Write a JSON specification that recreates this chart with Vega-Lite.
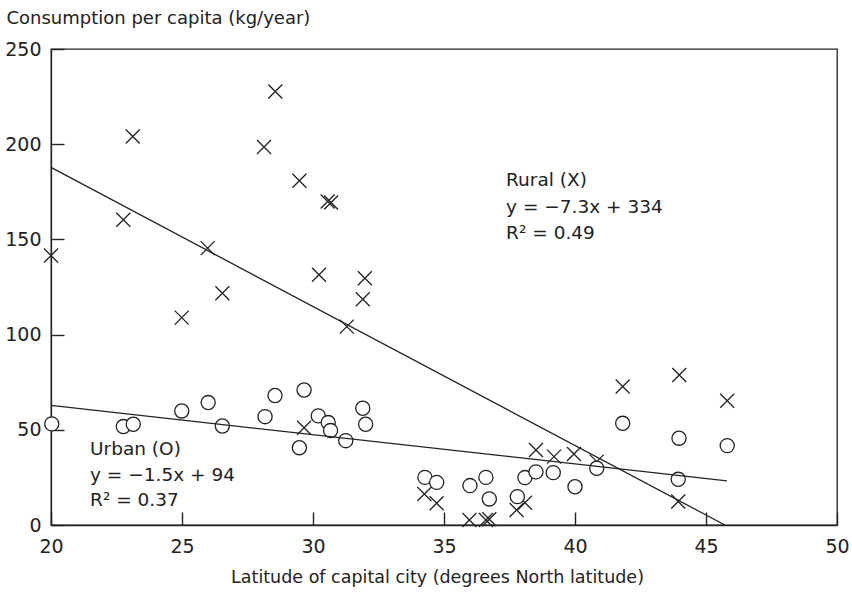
{
  "$schema": "https://vega.github.io/schema/vega-lite/v6.json",
  "width": 786,
  "height": 476,
  "autosize": {"type": "none"},
  "padding": {"left": 51, "top": 49, "right": 15, "bottom": 68},
  "background": "white",
  "config": {
    "font": "DejaVu Sans",
    "view": {"stroke": "#222", "strokeWidth": 1.3},
    "axis": {"grid": false, "domainColor": "#222", "domainWidth": 1.3, "tickColor": "#222", "tickWidth": 1.4, "labelColor": "#222", "titleColor": "#222", "labelFont": "DejaVu Sans", "titleFont": "DejaVu Sans", "titleFontWeight": "normal"}
  },
  "datasets": {
    "pts": [
      {"lat": 20.0, "cons": 141.5, "area": "Rural"},
      {"lat": 22.76, "cons": 160.3, "area": "Rural"},
      {"lat": 23.12, "cons": 204, "area": "Rural"},
      {"lat": 25.98, "cons": 145.4, "area": "Rural"},
      {"lat": 28.13, "cons": 198.5, "area": "Rural"},
      {"lat": 28.56, "cons": 227.7, "area": "Rural"},
      {"lat": 29.48, "cons": 180.8, "area": "Rural"},
      {"lat": 30.56, "cons": 169.9, "area": "Rural"},
      {"lat": 30.69, "cons": 169.4, "area": "Rural"},
      {"lat": 30.23, "cons": 131.4, "area": "Rural"},
      {"lat": 31.98, "cons": 129.6, "area": "Rural"},
      {"lat": 31.9, "cons": 118.6, "area": "Rural"},
      {"lat": 26.54, "cons": 121.7, "area": "Rural"},
      {"lat": 24.99, "cons": 108.9, "area": "Rural"},
      {"lat": 31.29, "cons": 104.2, "area": "Rural"},
      {"lat": 29.66, "cons": 51.1, "area": "Rural"},
      {"lat": 41.82, "cons": 72.7, "area": "Rural"},
      {"lat": 43.98, "cons": 78.8, "area": "Rural"},
      {"lat": 45.81, "cons": 65.3, "area": "Rural"},
      {"lat": 38.51, "cons": 39.4, "area": "Rural"},
      {"lat": 39.2, "cons": 35.9, "area": "Rural"},
      {"lat": 39.96, "cons": 37.3, "area": "Rural"},
      {"lat": 40.83, "cons": 33.3, "area": "Rural"},
      {"lat": 34.25, "cons": 16.3, "area": "Rural"},
      {"lat": 34.72, "cons": 11.4, "area": "Rural"},
      {"lat": 35.97, "cons": 2.6, "area": "Rural"},
      {"lat": 36.6, "cons": 2.6, "area": "Rural"},
      {"lat": 36.73, "cons": 3.0, "area": "Rural"},
      {"lat": 37.77, "cons": 7.9, "area": "Rural"},
      {"lat": 38.09, "cons": 11.7, "area": "Rural"},
      {"lat": 43.94, "cons": 12.3, "area": "Rural"},
      {"lat": 20.03, "cons": 53.1, "area": "Urban"},
      {"lat": 22.76, "cons": 51.7, "area": "Urban"},
      {"lat": 23.14, "cons": 52.9, "area": "Urban"},
      {"lat": 24.99, "cons": 59.9, "area": "Urban"},
      {"lat": 26.0, "cons": 64.3, "area": "Urban"},
      {"lat": 26.54, "cons": 52.0, "area": "Urban"},
      {"lat": 28.17, "cons": 56.9, "area": "Urban"},
      {"lat": 28.55, "cons": 68.0, "area": "Urban"},
      {"lat": 29.66, "cons": 70.9, "area": "Urban"},
      {"lat": 29.48, "cons": 40.6, "area": "Urban"},
      {"lat": 30.2, "cons": 57.3, "area": "Urban"},
      {"lat": 30.58, "cons": 53.8, "area": "Urban"},
      {"lat": 30.67, "cons": 49.6, "area": "Urban"},
      {"lat": 31.25, "cons": 44.3, "area": "Urban"},
      {"lat": 31.9, "cons": 61.3, "area": "Urban"},
      {"lat": 32.01, "cons": 52.9, "area": "Urban"},
      {"lat": 34.27, "cons": 25.0, "area": "Urban"},
      {"lat": 34.72, "cons": 22.4, "area": "Urban"},
      {"lat": 35.99, "cons": 20.7, "area": "Urban"},
      {"lat": 36.6, "cons": 25.0, "area": "Urban"},
      {"lat": 36.73, "cons": 13.7, "area": "Urban"},
      {"lat": 37.8, "cons": 14.9, "area": "Urban"},
      {"lat": 38.09, "cons": 24.9, "area": "Urban"},
      {"lat": 38.51, "cons": 27.9, "area": "Urban"},
      {"lat": 39.17, "cons": 27.5, "area": "Urban"},
      {"lat": 40.0, "cons": 20.1, "area": "Urban"},
      {"lat": 40.83, "cons": 29.8, "area": "Urban"},
      {"lat": 41.82, "cons": 53.4, "area": "Urban"},
      {"lat": 43.97, "cons": 45.6, "area": "Urban"},
      {"lat": 45.81, "cons": 41.7, "area": "Urban"},
      {"lat": 43.94, "cons": 24.0, "area": "Urban"}
    ],
    "fits": [
      {"lat": 20, "cons": 187.8, "area": "Rural"},
      {"lat": 45.72, "cons": 0, "area": "Rural"},
      {"lat": 20, "cons": 62.8, "area": "Urban"},
      {"lat": 45.8, "cons": 23.2, "area": "Urban"}
    ],
    "notes": [
      {"lat": 37.37, "cons": 181.3, "label": "Rural (X)"},
      {"lat": 37.37, "cons": 167.1, "label": "y = −7.3x + 334"},
      {"lat": 37.37, "cons": 153.4, "label": "R² = 0.49"},
      {"lat": 21.49, "cons": 39.9, "label": "Urban (O)"},
      {"lat": 21.49, "cons": 26.3, "label": "y = −1.5x + 94"},
      {"lat": 21.49, "cons": 13.1, "label": "R² = 0.37"}
    ]
  },
  "encoding": {
    "x": {"field": "lat", "type": "quantitative", "scale": {"domain": [20, 50], "nice": false, "zero": false},
      "axis": {"values": [20, 25, 30, 35, 40, 45, 50], "tickSize": -13, "labelPadding": 25, "labelFontSize": 19, "title": "Latitude of capital city (degrees North latitude)", "titleFontSize": 17.5, "titlePadding": 12, "titleX": 386, "titleAlign": "center", "labelFlush": false}},
    "y": {"field": "cons", "type": "quantitative", "scale": {"domain": [0, 250], "nice": false},
      "axis": {"values": [0, 50, 100, 150, 200, 250], "tickSize": -13, "labelPadding": 23, "labelFontSize": 19, "title": "Consumption per capita (kg/year)", "titleFontSize": 18, "titleAngle": 0, "titleAlign": "left", "titleBaseline": "alphabetic", "titleX": -45, "titleY": -26, "labelFlush": false}}
  },
  "layer": [
    {
      "data": {"name": "pts"},
      "transform": [{"filter": "datum.area === 'Rural'"}],
      "mark": {"type": "point", "shape": "M-1,-1L1,1M-1,1L1,-1", "filled": false, "stroke": "#222", "strokeWidth": 1.3, "size": 196, "opacity": 1}
    },
    {
      "data": {"name": "pts"},
      "transform": [{"filter": "datum.area === 'Urban'"}],
      "mark": {"type": "point", "shape": "circle", "filled": false, "fill": "white", "fillOpacity": 1, "stroke": "#222", "strokeWidth": 1.3, "size": 200, "opacity": 1}
    },
    {
      "data": {"name": "fits"},
      "mark": {"type": "line", "color": "#222", "strokeWidth": 1.3},
      "encoding": {"detail": {"field": "area"}}
    },
    {
      "data": {"name": "notes"},
      "mark": {"type": "text", "align": "left", "baseline": "middle", "fontSize": 18.5, "color": "#222", "font": "DejaVu Sans"},
      "encoding": {"text": {"field": "label"}}
    }
  ]
}
